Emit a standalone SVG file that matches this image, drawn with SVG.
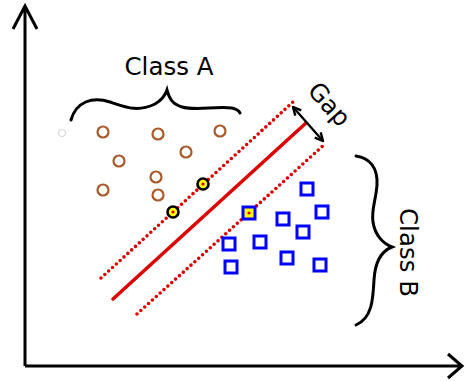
<svg xmlns="http://www.w3.org/2000/svg" width="465" height="381" viewBox="0 0 465 381">
<defs>
<style>
.axis{stroke:#000;stroke-width:3;fill:none;stroke-linecap:butt;stroke-linejoin:miter}
.brace{stroke:#000;stroke-width:3;fill:none;stroke-linecap:round}
.sep{stroke:#dd0000;stroke-width:3.5;stroke-linecap:round}
.margin{stroke:#dd0000;stroke-width:3.6;stroke-linecap:round;stroke-dasharray:0 5.2}
.ca{fill:none;stroke:#a85a2a;stroke-width:2.2}
.sv{fill:#ffff00;stroke:#000;stroke-width:2.6}
.cb{fill:none;stroke:#0000ff;stroke-width:3}
.svb{fill:#ffff00;stroke:#0000ff;stroke-width:3}
.dot{fill:#dd0000}
.lbl{font-family:"DejaVu Sans",Verdana,sans-serif;font-size:24.5px;fill:#000}
</style>
<marker id="ah" viewBox="0 0 10 10" refX="9" refY="5" markerWidth="10" markerHeight="10" markerUnits="userSpaceOnUse" orient="auto-start-reverse">
<path d="M1,1 L9,5 L1,9" fill="none" stroke="#000" stroke-width="2.4"/>
</marker>
</defs>
<g id="axes">
<path class="axis" d="M25,366 L25,6 M13,29 L25,6 L37,29"/>
<path class="axis" d="M25,366 L462,366 M448,354 L462,366 L448,378"/>
</g>
<g id="connectors">
<line class="sep" x1="113" y1="299" x2="306" y2="123"/>
<line class="margin" x1="101" y1="278" x2="293" y2="102"/>
<line class="margin" x1="137" y1="314" x2="325" y2="144"/>
<line x1="293" y1="107" x2="323" y2="141" stroke="#000" stroke-width="2.4" marker-start="url(#ah)" marker-end="url(#ah)"/>
</g>
<g id="classA">
<path class="brace" d="M71,120 C76,102 92,96 110,102 C128,108 138,112 155,104 C162,100 165,96 167,90 C169,98 172,104 182,107 C196,111 215,106 232,108 C237,109 239,111 240,113"/>
<text class="lbl" x="169" y="75" text-anchor="middle">Class A</text>
<circle cx="62" cy="133" r="3.5" fill="none" stroke="#d8d8d8" stroke-width="1.2"/>
<circle class="ca" cx="103" cy="132" r="5.5"/>
<circle class="ca" cx="158" cy="134" r="5.5"/>
<circle class="ca" cx="220" cy="131" r="5.5"/>
<circle class="ca" cx="119" cy="161" r="5.5"/>
<circle class="ca" cx="186" cy="152" r="5.5"/>
<circle class="ca" cx="156" cy="177" r="5.5"/>
<circle class="ca" cx="103" cy="190" r="5.5"/>
<circle class="ca" cx="158" cy="195" r="5.5"/>
<circle class="sv" cx="203" cy="184" r="5.5"/>
<circle class="sv" cx="173" cy="212" r="5.5"/>
<circle class="dot" cx="203" cy="184" r="1.6"/>
<circle class="dot" cx="173" cy="212" r="1.6"/>
</g>
<g id="classB">
<path class="brace" d="M356,156 C370,158 378,168 377,185 C376,200 371,210 373,222 C375,236 384,244 392,247 C382,251 375,262 374,280 C373,300 372,318 356,325"/>
<text class="lbl" transform="translate(400,252.5) rotate(90)" text-anchor="middle">Class B</text>
<rect class="svb" x="243" y="207" width="12" height="12"/>
<circle class="dot" cx="249" cy="213" r="1.6"/>
<rect class="cb" x="301" y="183" width="12" height="12"/>
<rect class="cb" x="316" y="206" width="12" height="12"/>
<rect class="cb" x="277" y="213" width="12" height="12"/>
<rect class="cb" x="297" y="226" width="12" height="12"/>
<rect class="cb" x="223" y="238" width="12" height="12"/>
<rect class="cb" x="254" y="236" width="12" height="12"/>
<rect class="cb" x="281" y="252" width="12" height="12"/>
<rect class="cb" x="314" y="259" width="12" height="12"/>
<rect class="cb" x="225" y="261" width="12" height="12"/>
</g>
<g id="gap">
<text class="lbl" transform="translate(323,110) rotate(48)" text-anchor="middle">Gap</text>
</g>
</svg>
